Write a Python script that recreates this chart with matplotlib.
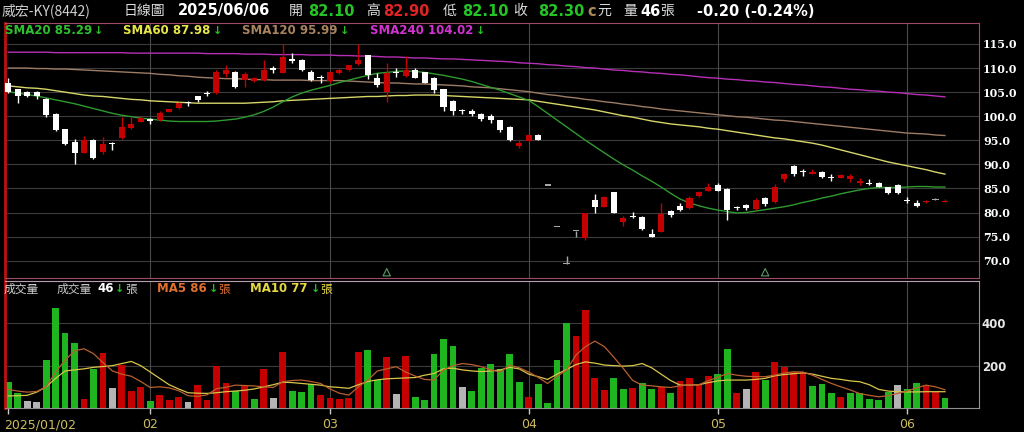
import numpy as np
import matplotlib
matplotlib.use('Agg')
import matplotlib.pyplot as plt

# ---- data ----
month_idx = [0, 15, 34, 55, 75, 95]
month_labels = ['2025/01/02', '02', '03', '04', '05', '06']

opens = [107.0, 105.6, 105.1, 105.1, 103.6, 100.5, 97.3, 94.7, 92.4, 95.1,
         92.6, 94.4, 95.4, 97.5, 98.9, 99.3, 99.2, 100.9, 101.8, 102.9,
         104.1, 104.8, 104.9, 108.7, 109.1, 107.5, 107.3, 107.5, 110.1, 108.9,
         111.8, 111.7, 109.1, 108.1, 107.4, 108.9, 109.5, 110.8, 112.7, 108.0,
         105.0, 109.2, 108.4, 109.5, 109.1, 108.0, 105.6, 103.2, 101.1, 101.1,
         100.5, 100.1, 99.2, 97.8, 93.8, 94.9, 96.2, 85.6, 77.0, 69.3,
         76.2, 74.7, 82.5, 81.2, 84.2, 78.1, 79.2, 79.1, 75.5, 76.0,
         80.3, 81.4, 80.9, 83.4, 84.5, 85.7, 84.9, 81.1, 81.5, 80.7,
         83.0, 82.1, 86.9, 89.7, 88.6, 88.1, 88.5, 87.4, 87.2, 86.9,
         86.1, 86.2, 86.2, 85.2, 85.7, 82.5, 82.05, 82.2, 82.5, 82.1]
highs = [108.0, 105.7, 105.2, 105.2, 103.7, 100.6, 97.4, 95.2, 95.8, 95.2,
         95.6, 94.6, 99.8, 99.8, 100.0, 99.6, 101.0, 101.6, 103.0, 103.2,
         104.2, 105.2, 109.6, 110.6, 109.3, 109.1, 108.2, 111.7, 110.5, 115.1,
         113.1, 111.8, 109.6, 108.6, 109.3, 110.1, 110.7, 115.0, 112.8, 109.0,
         111.0, 110.0, 112.6, 110.0, 109.2, 108.1, 105.7, 103.3, 101.6, 101.6,
         100.6, 100.5, 99.3, 97.9, 95.1, 96.1, 96.3, 85.6, 77.0, 71.0,
         76.2, 80.0, 83.8, 83.4, 84.3, 79.3, 80.2, 79.2, 76.5, 82.0,
         80.5, 81.9, 83.4, 84.4, 86.1, 86.1, 85.0, 81.4, 81.8, 83.0,
         83.3, 85.9, 88.2, 89.9, 89.0, 89.0, 88.6, 88.0, 87.9, 88.0,
         87.1, 86.9, 86.3, 85.3, 85.9, 83.3, 82.5, 82.5, 83.1, 82.9]
lows = [104.9, 102.7, 104.0, 103.5, 99.9, 96.9, 94.0, 90.1, 92.3, 91.2,
        92.1, 93.0, 95.3, 97.4, 98.7, 98.4, 99.1, 100.8, 101.6, 102.1,
        103.0, 104.1, 104.6, 108.2, 105.9, 106.0, 107.1, 107.4, 108.9, 108.9,
        111.0, 109.4, 107.4, 107.0, 107.0, 108.8, 109.4, 110.7, 107.8, 106.0,
        103.0, 108.1, 108.2, 107.9, 106.9, 104.9, 101.0, 100.3, 100.5, 100.0,
        99.0, 98.5, 96.8, 94.8, 93.3, 94.8, 95.0, 85.6, 77.0, 69.3,
        74.9, 74.3, 80.0, 81.1, 79.9, 77.1, 78.8, 76.4, 74.9, 75.9,
        79.1, 80.4, 80.8, 83.3, 84.4, 84.4, 78.5, 80.5, 80.6, 80.6,
        81.3, 82.0, 86.4, 87.6, 87.6, 88.0, 87.2, 86.6, 87.1, 86.4,
        85.7, 85.8, 85.3, 83.8, 83.8, 81.9, 81.2, 82.0, 82.5, 82.1]
closes = [105.0, 104.1, 104.1, 104.1, 100.3, 97.1, 94.2, 92.3, 95.1, 91.3,
          94.2, 94.2, 97.8, 98.3, 99.7, 99.1, 100.6, 101.4, 102.7, 102.7,
          103.4, 104.7, 109.1, 109.7, 106.0, 108.7, 108.0, 109.6, 109.6, 112.2,
          111.5, 109.5, 107.5, 108.0, 109.1, 109.6, 110.6, 111.7, 108.6, 106.5,
          109.0, 109.0, 109.5, 108.0, 107.0, 105.4, 102.0, 101.0, 101.0, 100.5,
          99.5, 99.2, 97.1, 95.1, 94.5, 96.0, 95.1, 85.6, 77.0, 69.3,
          76.2, 80.0, 81.1, 83.3, 80.0, 78.8, 79.1, 76.5, 75.0, 79.6,
          79.4, 80.5, 83.1, 84.3, 85.2, 84.5, 80.5, 81.0, 81.0, 82.6,
          81.7, 85.2, 87.9, 88.1, 88.5, 88.2, 87.3, 87.2, 87.8, 87.6,
          86.6, 85.9, 85.4, 84.1, 84.1, 82.4, 81.4, 82.4, 82.5, 82.3]

volumes = [121, 72, 31, 27, 226, 471, 352, 309, 42, 182,
           259, 93, 203, 80, 99, 31, 60, 39, 53, 27,
           111, 38, 199, 118, 80, 107, 42, 185, 47, 264,
           80, 75, 113, 60, 47, 44, 47, 264, 273, 130,
           243, 64, 248, 52, 39, 254, 325, 295, 97, 80,
           188, 210, 182, 254, 124, 52, 113, 22, 229, 403,
           341, 463, 144, 85, 140, 88, 96, 116, 89, 100,
           69, 127, 140, 108, 151, 159, 278, 69, 88, 171,
           132, 215, 193, 171, 171, 104, 113, 69, 50, 69,
           72, 44, 36, 77, 108, 89, 116, 110, 77, 46]
# r = up, g = down, n = unchanged (versus previous close)
vol_dir = list(''.join(['ggnnggggrg', 'rnrrrgrrrn', 'rrrrgrgrnr', 'gggrrrrrgg',
                        'rnrgggggng', 'gggggrgggg', 'rrrrggrggr', 'grrrrggrnr',
                        'grrrrgggrg', 'ggggnggrrg']))

sma20 = [105.1, 104.8, 104.5, 104.2, 103.8, 103.4, 103.0, 102.6, 102.1, 101.6,
         101.1, 100.6, 100.2, 99.9, 99.6, 99.4, 99.2, 99.0, 98.9, 98.9,
         98.9, 98.9, 99.0, 99.2, 99.4, 99.8, 100.3, 101.0, 101.9, 103.0,
         104.0, 104.8, 105.4, 105.9, 106.4, 107.0, 107.5, 108.0, 108.5, 108.9,
         109.1, 109.3, 109.4, 109.3, 109.1, 108.8, 108.5, 108.1, 107.7, 107.2,
         106.6, 106.0, 105.4, 104.7, 104.0, 103.3, 102.0, 100.6, 99.2, 97.8,
         96.4, 95.0, 93.7, 92.4, 91.1, 89.9, 88.8, 87.6, 86.5, 85.3,
         84.0, 82.8, 82.0, 81.4, 80.9, 80.5, 80.2, 79.9, 80.0, 80.3,
         80.6, 80.9, 81.2, 81.6, 82.1, 82.5, 83.0, 83.4, 83.9, 84.3,
         84.7, 85.0, 85.2, 85.2, 85.2, 85.3, 85.4, 85.4, 85.3, 85.29]
sma60 = [106.3, 106.1, 105.9, 105.8, 105.6, 105.3, 105.0, 104.7, 104.4, 104.2,
         104.1, 103.9, 103.7, 103.5, 103.4, 103.2, 103.1, 103.0, 102.9, 102.8,
         102.7, 102.7, 102.7, 102.7, 102.7, 102.7, 102.8, 102.9, 103.0, 103.2,
         103.3, 103.4, 103.5, 103.6, 103.7, 103.8, 103.9, 104.0, 104.1, 104.1,
         104.2, 104.3, 104.3, 104.4, 104.4, 104.4, 104.3, 104.2, 104.1, 104.0,
         103.9, 103.8, 103.7, 103.6, 103.5, 103.4, 103.1, 102.8, 102.5, 102.2,
         101.9, 101.6, 101.3, 100.9, 100.5, 100.1, 99.8, 99.4, 99.0, 98.7,
         98.4, 98.2, 98.0, 97.8, 97.5, 97.3, 97.0, 96.7, 96.4, 96.1,
         95.8, 95.5, 95.3, 95.0, 94.7, 94.4, 94.0, 93.5, 93.0, 92.5,
         92.0, 91.5, 91.0, 90.5, 90.1, 89.7, 89.3, 88.9, 88.4, 87.98]
sma120 = [110.0, 110.0, 110.0, 109.9, 109.9, 109.8, 109.8, 109.7, 109.6, 109.5,
          109.4, 109.3, 109.2, 109.1, 109.0, 108.9, 108.7, 108.6, 108.4, 108.3,
          108.1, 108.0, 107.9, 107.8, 107.8, 107.7, 107.6, 107.6, 107.5, 107.5,
          107.5, 107.5, 107.4, 107.4, 107.4, 107.4, 107.3, 107.2, 107.1, 107.0,
          106.9, 106.9, 106.8, 106.7, 106.7, 106.6, 106.5, 106.4, 106.3, 106.1,
          106.0, 105.9, 105.7, 105.5, 105.3, 105.1, 104.8, 104.5, 104.3, 104.0,
          103.8, 103.5, 103.3, 103.0, 102.8, 102.5, 102.3, 102.0, 101.8, 101.5,
          101.3, 101.1, 100.9, 100.7, 100.5, 100.3, 100.1, 99.9, 99.8, 99.6,
          99.4, 99.2, 99.1, 98.9, 98.7, 98.5, 98.3, 98.1, 97.9, 97.7,
          97.5, 97.3, 97.1, 96.9, 96.7, 96.5, 96.4, 96.3, 96.1, 95.99]
sma240 = [113.3, 113.3, 113.3, 113.3, 113.3, 113.2, 113.2, 113.2, 113.2, 113.2,
          113.2, 113.2, 113.2, 113.1, 113.1, 113.1, 113.1, 113.1, 113.1, 113.1,
          113.1, 113.0, 113.0, 113.0, 113.0, 112.9, 112.9, 112.9, 112.8, 112.8,
          112.8, 112.8, 112.7, 112.7, 112.7, 112.6, 112.6, 112.5, 112.5, 112.4,
          112.3, 112.3, 112.2, 112.1, 112.1, 112.0, 111.9, 111.9, 111.8, 111.7,
          111.6, 111.5, 111.4, 111.3, 111.1, 111.0, 110.9, 110.7, 110.6, 110.4,
          110.3, 110.1, 110.0, 109.8, 109.6, 109.5, 109.3, 109.2, 109.0, 108.9,
          108.7, 108.6, 108.4, 108.2, 108.0, 107.9, 107.7, 107.6, 107.4, 107.3,
          107.1, 107.0, 106.8, 106.6, 106.5, 106.3, 106.1, 106.0, 105.8, 105.6,
          105.5, 105.3, 105.2, 105.0, 104.9, 104.7, 104.5, 104.4, 104.2, 104.02]

vol_ma5 = [88, 80, 75, 78, 100, 170, 226, 270, 280, 257,
           215, 175, 160, 150, 125, 97, 100, 95, 82, 58,
           55, 62, 91, 98, 108, 106, 104, 100, 97, 124,
           130, 132, 125, 116, 90, 70, 61, 100, 132, 175,
           185, 195, 170, 151, 135, 132, 180, 200, 210, 205,
           195, 180, 170, 203, 190, 170, 145, 116, 150, 179,
           250, 290, 316, 290, 240, 187, 130, 108, 105, 100,
           97, 105, 108, 110, 130, 145, 163, 155, 150, 148,
           148, 155, 165, 171, 170, 155, 135, 116, 100, 85,
           68, 60, 53, 58, 69, 80, 95, 108, 100, 86]
vol_ma10 = [57, 58, 60, 75, 100, 140, 175, 180, 185, 192,
            196, 200, 210, 220, 200, 170, 140, 110, 90, 72,
            70, 69, 72, 77, 80, 84, 90, 100, 110, 122,
            120, 116, 112, 108, 100, 97, 93, 110, 125, 133,
            138, 140, 142, 144, 155, 163, 185, 188, 180, 175,
            172, 175, 180, 192, 185, 160, 148, 135, 160, 182,
            205, 218, 212, 203, 200, 198, 200, 210, 190, 160,
            130, 108, 108, 110, 120, 128, 132, 132, 132, 135,
            140, 152, 158, 162, 166, 160, 150, 140, 135, 128,
            124, 110, 88, 80, 77, 76, 76, 77, 77, 77]

# dividend-type markers under the price panel
mark_idx = [40, 80]

# ---- layout ----
W, H = 1024, 432
def fx(x): return x / W
def fy(y): return 1 - y / H

RED = '#c40000'
GREEN = '#1fb51f'
GRAY = '#b4b4b4'
GRID = '#3c3c3c'
CJK = ['Noto Sans CJK TC', 'DejaVu Sans']

fig = plt.figure(figsize=(W / 100, H / 100), dpi=100, facecolor='black')
ax = fig.add_axes([fx(5), fy(278), (979 - 5) / W, (278 - 23) / H], facecolor='black')
axv = fig.add_axes([fx(5), fy(408), (979 - 5) / W, (408 - 281) / H], facecolor='black')

x = np.arange(len(closes))
xlim = (-0.35, 102.6)

# price panel
for v in range(70, 120, 5):
    ax.axhline(v, color=GRID, lw=0.8, zorder=0)
for m in month_idx[1:]:
    ax.axvline(m, color='#4a4a4a', lw=0.8, zorder=0)

for i in x:
    o, h, l, c = opens[i], highs[i], lows[i], closes[i]
    if c > o:
        col = RED
    elif c < o:
        col = 'white'
    else:
        col = '#a8a8a8'
    ax.vlines(i, l, h, color=col, lw=1, zorder=3)
    ax.bar(i, max(abs(c - o), 0.22), bottom=min(o, c), width=0.64,
           color=col, lw=0, zorder=4)

ax.plot(x, sma240, color='#b62fb6', lw=1, zorder=2)
ax.plot(x, sma120, color='#9c7c64', lw=1, zorder=2)
ax.plot(x, sma60, color='#d6d66a', lw=1, zorder=2)
ax.plot(x, sma20, color='#2f9a2f', lw=1, zorder=2)

ax.scatter(mark_idx, [67.6] * len(mark_idx), marker='^', s=28,
           facecolors='none', edgecolors='#5a9a6a', lw=0.8, zorder=5)

ax.set_xlim(*xlim)
ax.set_ylim(66.4, 119.36)
ax.set_xticks([])
ax.yaxis.tick_right()
ax.set_yticks(range(70, 120, 5))
ax.set_yticklabels(['%.1f' % v for v in range(70, 120, 5)],
                   family='DejaVu Serif', weight='bold', fontsize=8, color='white')
ax.tick_params(axis='y', length=0, pad=3)
for s in ['top', 'right', 'bottom']:
    ax.spines[s].set_color('#a04a6a')
ax.spines['left'].set_color('#c01010')
ax.spines['left'].set_linewidth(2)

# volume panel
for v in [200, 400]:
    axv.axhline(v, color=GRID, lw=0.8, zorder=0)
for m in month_idx[1:]:
    axv.axvline(m, color='#4a4a4a', lw=0.8, zorder=0)

vcol = {'r': RED, 'g': GREEN, 'n': GRAY}
axv.bar(x, volumes, width=0.72, color=[vcol[d] for d in vol_dir], lw=0, zorder=2)
axv.plot(x, vol_ma10, color='#d8c64a', lw=0.9, zorder=3)
axv.plot(x, vol_ma5, color='#b8602e', lw=0.9, zorder=3)

axv.set_xlim(*xlim)
axv.set_ylim(0, 600)
axv.yaxis.tick_right()
axv.set_yticks([200, 400])
axv.set_yticklabels(['200', '400'], weight='bold', fontsize=8.5, color='#e6e6e6')
axv.tick_params(axis='y', length=0, pad=2)
axv.set_xticks(month_idx)
axv.set_xticklabels([])
axv.tick_params(axis='x', length=4.5, width=1, color='#c8c8c8', direction='out')
axv.spines['top'].set_color('#b8a0b0')
axv.spines['right'].set_color('#b08898')
axv.spines['bottom'].set_color('#909090')
axv.spines['left'].set_color('#c01010')
axv.spines['left'].set_linewidth(2)

for m, lab in zip(month_idx, month_labels):
    xp = 8.3 + 9.46 * m
    if m == 0:
        fig.text(fx(4), fy(425), lab, ha='left', va='center', fontsize=9, color='#cdbd5e')
    else:
        fig.text(fx(xp), fy(425), lab, ha='center', va='center', fontsize=9, color='#cdbd5e')

renderer = fig.canvas.get_renderer()

def put(xp, yp, s, col, size=10.5, bold=False, fam=None):
    t = fig.text(fx(xp), fy(yp), s, ha='left', va='center', color=col, fontsize=size,
                 weight='bold' if bold else 'normal', family=fam if fam else CJK)
    return t

def right_edge(t):
    # right end of a drawn text, in pixels from the left
    return t.get_window_extent(renderer=renderer).x1

# header row
LIGHT = '#dcdcdc'
put(2, 11, '威宏-KY(8442)', '#d0d0d0', 10)
put(124, 11, '日線圖', LIGHT, 10)
put(178, 11, '2025/06/06', 'white', 10.5, True, 'DejaVu Sans')
put(289, 11, '開', LIGHT, 10)
put(308, 11, '82.10', '#24c424', 10.5, True, 'DejaVu Sans')
put(366, 11, '高', LIGHT, 10)
put(383, 11, '82.90', '#e02424', 10.5, True, 'DejaVu Sans')
put(443, 11, '低', LIGHT, 10)
put(462, 11, '82.10', '#24c424', 10.5, True, 'DejaVu Sans')
put(513, 11, '收', LIGHT, 10)
put(538, 11, '82.30', '#24c424', 10.5, True, 'DejaVu Sans')
put(587, 11, 'c', '#a88a5a', 10.5, True, 'DejaVu Sans')
put(597, 11, '元', LIGHT, 10)
put(623, 11, '量', LIGHT, 10)
put(640, 11, '46', 'white', 10.5, True, 'DejaVu Sans')
put(660, 11, '張', LIGHT, 10)
put(697, 11, '-0.20 (-0.24%)', 'white', 10.5, True, 'DejaVu Sans')

# moving average legend, arrow right after each value
ARROW = '#22c022'
for xp, s, col in [(5, 'SMA20 85.29', '#2fc02f'),
                   (123, 'SMA60 87.98', '#e6e64a'),
                   (242, 'SMA120 95.99', '#a8845e'),
                   (370, 'SMA240 104.02', '#d232d2')]:
    t = put(xp, 31, s, col, 8.5, True, 'DejaVu Sans')
    put(right_edge(t) + 2, 31, '↓', ARROW, 8, True, 'DejaVu Sans')

put(4, 289, '成交量', '#d0d0d0', 8.5)
put(57, 289, '成交量', '#c8c8c8', 8.5)
put(97, 289, '46', 'white', 8.5, True, 'DejaVu Sans')
put(115, 289, '↓', ARROW, 8, True, 'DejaVu Sans')
put(125, 289, '張', '#c8c8c8', 8.5)
put(157, 289, 'MA5 86', '#e0702e', 8.5, True, 'DejaVu Sans')
put(209, 289, '↓', ARROW, 8, True, 'DejaVu Sans')
put(218, 289, '張', '#e0702e', 8.5)
put(250, 289, 'MA10 77', '#e6d842', 8.5, True, 'DejaVu Sans')
put(311, 289, '↓', ARROW, 8, True, 'DejaVu Sans')
put(320, 289, '張', '#e6d842', 8.5)

fig.savefig('out.png', dpi=100, facecolor='black')
